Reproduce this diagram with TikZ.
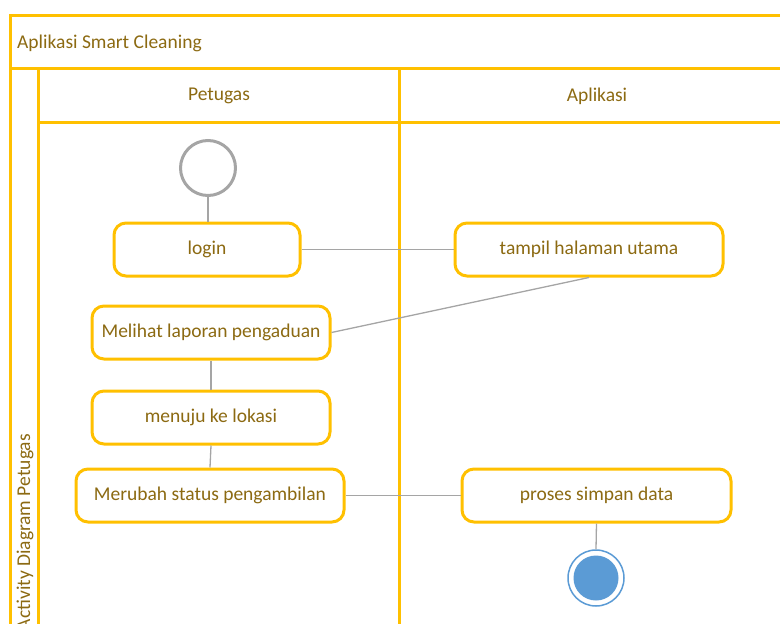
\documentclass[tikz,border=0pt]{standalone}
\usepackage{fontspec}
\setmainfont{Carlito}
\definecolor{laneyellow}{HTML}{FFC000}
\definecolor{labeltext}{HTML}{8C6A12}
\definecolor{flowgray}{HTML}{A5A5A5}
\definecolor{endblue}{HTML}{5B9BD5}
% sets a label a little lower inside its box
\newcommand{\lowtext}[1]{\raisebox{-2pt}{#1}}
\begin{document}
\begin{tikzpicture}[x=1pt,y=-1pt,
  lane/.style={draw=laneyellow,line width=3pt},
  act/.style={draw=laneyellow,line width=3pt,rounded corners=12pt,fill=white,
    minimum height=53pt,text=labeltext,font=\fontsize{19.5}{22}\selectfont,inner sep=0pt},
  lbl/.style={text=labeltext,font=\fontsize{19.5}{22}\selectfont,inner sep=0pt},
  flow/.style={draw=flowgray,line width=1.3pt}]
\clip (0,0) rectangle (780,624);
\useasboundingbox (0,0) rectangle (780,624);
% pool and lane frame
\draw[lane] (10,640) -- (10,15) -- (800,15);
\draw[lane] (10,68) -- (800,68);
\draw[lane] (38,68) -- (38,640);
\draw[lane] (38,122) -- (800,122);
\draw[lane] (399,68) -- (399,640);
% headers
\node[lbl,anchor=west] (title) at (17,43) {Aplikasi Smart Cleaning};
\node[lbl] (petugas) at (219,96) {Petugas};
\node[lbl] (aplikasi) at (597,96) {Aplikasi};
\node[lbl,rotate=90,anchor=east] (pool) at (25,434) {Activity Diagram Petugas};
% activities
\node[draw=flowgray,line width=3pt,circle,minimum size=55pt,inner sep=0pt] (start) at (208,168) {};
\node[act,minimum width=186pt] (login) at (207,249.5) {\lowtext{login}};
\node[act,minimum width=268pt] (tampil) at (589,249.5) {\lowtext{tampil halaman utama}};
\node[act,minimum width=238pt] (lihat) at (211,332.5) {\lowtext{Melihat laporan pengaduan}};
\node[act,minimum width=238pt] (menuju) at (211,417.5) {\lowtext{menuju ke lokasi}};
\node[act,minimum width=268pt] (ubah) at (210,495.5) {\lowtext{Merubah status pengambilan}};
\node[act,minimum width=269pt] (simpan) at (596.5,495.5) {\lowtext{proses simpan data}};
\node[circle,draw=endblue,line width=1.5pt,fill=white,minimum size=56pt,inner sep=0pt] (finish) at (596,578) {};
\node[circle,fill=endblue,minimum size=45pt,inner sep=0pt] (finishdot) at (finish.center) {};
% control flow
\draw[flow] (start.south) -- (start.south |- login.north);
\draw[flow] (login.east) -- (tampil.west);
\draw[flow] (tampil.south) -- (lihat.east);
\draw[flow] (lihat.south) -- (lihat.south |- menuju.north);
\draw[flow] (menuju.south) -- (ubah.north);
\draw[flow] (ubah.east) -- (simpan.west);
\draw[flow] (simpan.south) -- (finish.north);
\end{tikzpicture}
\end{document}
